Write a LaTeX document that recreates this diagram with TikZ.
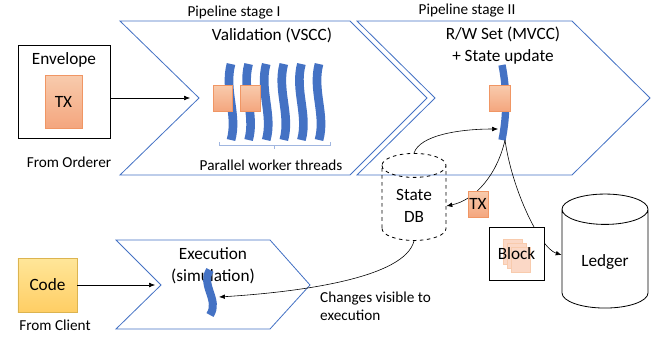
\documentclass[tikz,border=0pt]{standalone}
\usepackage{fontspec}
\setmainfont{Carlito}
\usetikzlibrary{shapes.geometric,arrows.meta,positioning,calc}
\definecolor{msb}{RGB}{68,114,196}
\definecolor{msbl}{RGB}{160,182,224}
\definecolor{orgt}{RGB}{248,203,173}
\definecolor{orgb}{RGB}{244,166,126}
\definecolor{orgd}{RGB}{240,150,100}
\definecolor{ylwt}{RGB}{255,230,153}
\definecolor{ylwb}{RGB}{255,206,100}
\definecolor{ylwd}{RGB}{220,180,80}
\definecolor{pale}{RGB}{251,216,198}
\newcommand{\fbig}{\fontsize{14.7}{18.7}\selectfont}
\newcommand{\fsml}{\fontsize{13}{15.3}\selectfont}
\tikzset{
	lbl/.style = { font=\fbig, align=center, inner sep=0pt },
	note/.style = { font=\fsml, align=left, inner sep=0pt },
	stage/.style = { draw=msb, line width=0.7pt },
	thread/.style = { draw=msb, line width=0.26cm },
	txbox/.style = { draw=orgd, top color=orgt, bottom color=orgb, inner sep=0pt },
	page/.style = { draw=orgt, fill=pale, minimum width=0.57cm, minimum height=0.75cm },
	box/.style = { draw, line width=0.7pt, fill=white },
	db/.style = { cylinder, shape border rotate=90, draw, line width=0.7pt, aspect=0.55, align=center, font=\fbig },
	flow/.style = { -{Latex[length=5pt,width=4pt]}, line width=0.5pt },
}
\begin{document}
\begin{tikzpicture}[x=0.03cm,y=-0.03cm]
\useasboundingbox (0,0) rectangle (654,337);

% pipeline stages
\draw[stage] (120,21) -- (350,21) -- (427,98) -- (350,175) -- (120,175) -- (199,98) -- cycle;
\draw[stage] (357,21) -- (572,21) -- (650,98) -- (572,175) -- (357,175) -- (435,98) -- cycle;
\draw[stage] (116,240) -- (270,240) -- (310,285) -- (270,329) -- (116,329) -- (161,285) -- cycle;
\coordinate (notchI) at (190,98);
\coordinate (notchX) at (155,285);

\node (hdI)   [note,anchor=center] at (234,13) {Pipeline stage I};
\node (hdII)  [note,anchor=center] at (467,11) {Pipeline stage II};
\node (val)   [lbl] at (272,35) {Validation (VSCC)};
\node (rw)    [lbl] at (503,46) {R/W Set (MVCC)\\+ State update};
\node (exe)   [lbl] at (213,266) {Execution\\(simulation)};

% worker threads
\foreach \i in {0,...,5}
	\draw[thread] (231+17.6*\i,64) .. controls (224+17.6*\i,90) and (238+17.6*\i,115) .. (231+17.6*\i,140);
\node (sq1) [txbox,minimum width=0.57cm,minimum height=0.78cm] at (222.5,98) {};
\node (sq2) [txbox,minimum width=0.6cm,minimum height=0.78cm]  at (250,98) {};
\draw[msbl,line width=0.6pt] (219,142) -- (219,145) -- (330,145) -- (330,142);
\draw[msbl,line width=0.6pt] (274,145) -- (274,149);
\node (par) [note] at (271,165) {Parallel worker threads};

% commit thread
\draw[thread,line width=0.22cm] (502,65) .. controls (507,90) and (507,115) .. (502,140);
\coordinate (bar)   at (505,140);
\coordinate (barin) at (498,129);
\node (sq3) [txbox,minimum width=0.63cm,minimum height=0.78cm] at (499.5,98) {};

% simulation thread
\draw[thread,line width=0.24cm] (210,270) .. controls (200,285) and (220,300) .. (210,315);
\coordinate (exein) at (219,297);

% inputs
\node (env)   [box,minimum width=2.76cm,minimum height=2.79cm] at (64,91.5) {};
\node (envl)  [lbl] at (64,60) {Envelope};
\node (envtx) [txbox,minimum width=1.11cm,minimum height=1.59cm,font=\fbig] at (63.5,101.5) {TX};
\node (ord)   [note] at (69,162) {From Orderer};
\draw[flow] (env.east|-notchI) -- (notchI);

\node (code)  [draw=ylwd,top color=ylwt,bottom color=ylwb,minimum width=1.77cm,minimum height=1.62cm,font=\fbig] at (47.5,285) {Code};
\node (cli)   [note] at (55,325) {From Client};
\draw[flow] (code) -- (notchX);

% storage
\node (sdb)   [db,dashed,minimum width=1.92cm,minimum height=2.61cm] at (414,206) {State\\DB};
\node (ledg)  [db,minimum width=2.58cm,minimum height=3.42cm] at (605,262) {Ledger};

\draw[flow] (sdb.north) .. controls (420,135) and (460,129) .. (barin);
\draw[flow] (bar) .. controls (497,175) and (475,200) .. (sdb.east);
\draw[flow] (bar) .. controls (512,190) and (540,248) .. ($(ledg.west)+(0,-7)$);
\draw[flow] (sdb.south) .. controls (405,278) and (300,292) .. (exein);
\node (chg)   [note,anchor=west] at (320,306) {Changes visible to\\execution};

\node (tx)    [txbox,minimum width=0.6cm,minimum height=0.78cm,font=\fbig] at (478,204) {TX};

\node (blk)   [box,minimum width=1.65cm,minimum height=1.59cm] at (516.5,253.5) {};
\node (pg1)   [page] at (512.5,251.5) {};
\node (pg2)   [page] at (516.5,255.5) {};
\node (pg3)   [page] at (520.5,259.5) {};
\node (blkl)  [lbl] at (516.5,254) {Block};

\end{tikzpicture}
\end{document}
